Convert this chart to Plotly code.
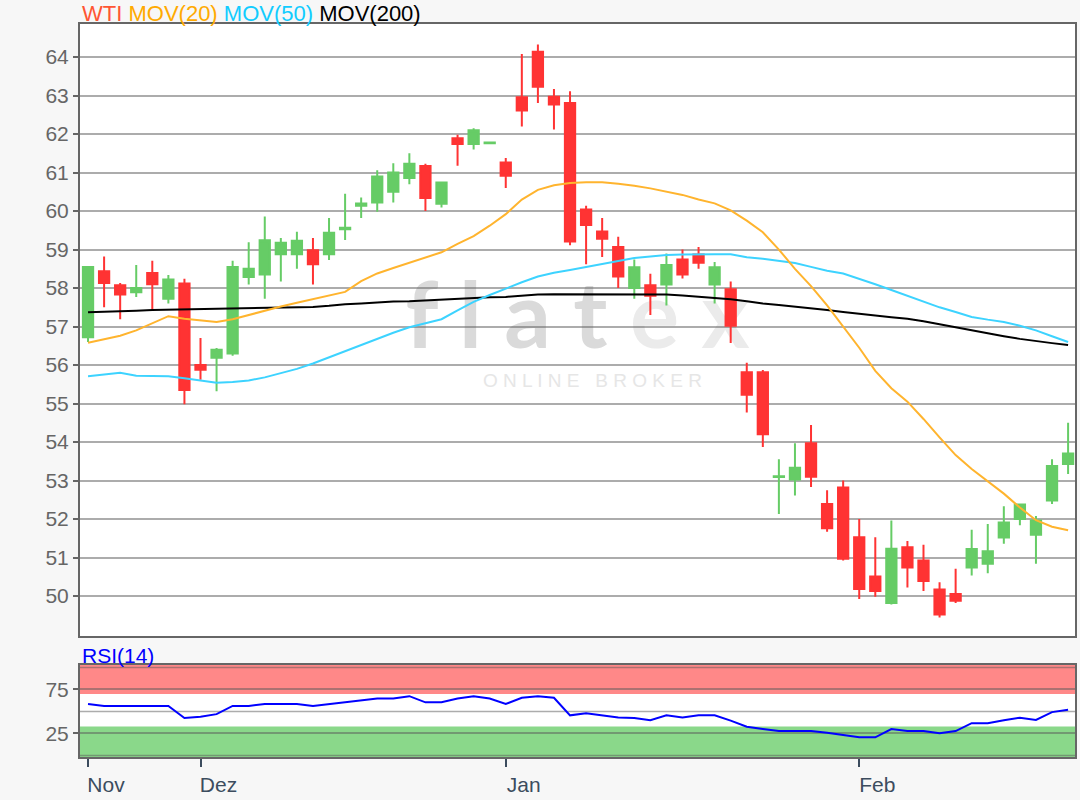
import plotly.graph_objects as go

# ---------------- data ----------------
dates = [
    "2019-11-21", "2019-11-22", "2019-11-25", "2019-11-26", "2019-11-27", "2019-11-28", "2019-11-29",
    "2019-12-02", "2019-12-03", "2019-12-04", "2019-12-05", "2019-12-06", "2019-12-09", "2019-12-10",
    "2019-12-11", "2019-12-12", "2019-12-13", "2019-12-16", "2019-12-17", "2019-12-18", "2019-12-19",
    "2019-12-20", "2019-12-23", "2019-12-27", "2019-12-30", "2019-12-31",
    "2020-01-02", "2020-01-03", "2020-01-06", "2020-01-07", "2020-01-08", "2020-01-09", "2020-01-10",
    "2020-01-13", "2020-01-14", "2020-01-15", "2020-01-16", "2020-01-17", "2020-01-20", "2020-01-21",
    "2020-01-22", "2020-01-23", "2020-01-24", "2020-01-27", "2020-01-28", "2020-01-29", "2020-01-30",
    "2020-01-31",
    "2020-02-03", "2020-02-04", "2020-02-05", "2020-02-06", "2020-02-07", "2020-02-10", "2020-02-11",
    "2020-02-12", "2020-02-13", "2020-02-14", "2020-02-17", "2020-02-18", "2020-02-19", "2020-02-20",
]

wti_open = [
    56.72, 58.44, 58.07, 57.89, 58.39, 57.72, 58.12,
    56.00, 56.19, 56.30, 58.29, 58.35, 58.88, 58.88, 58.98, 58.88, 59.53, 60.14, 60.22, 60.50,
    60.86, 61.17, 60.19, 61.89, 61.74, 61.76,
    61.26, 62.96, 64.14, 62.97, 62.81, 60.04, 59.47, 59.07, 58.00, 58.07, 58.09, 58.74, 58.87,
    58.09, 57.97, 55.81, 55.81, 53.09, 53.03, 53.97, 52.39, 52.82,
    51.53, 50.51, 49.82, 51.27, 50.92, 50.17, 50.05, 50.74, 50.84, 51.52, 52.00, 51.59, 52.48, 53.43,
]
wti_high = [
    58.57, 58.82, 58.13, 58.60, 58.71, 58.34, 58.24,
    56.70, 56.44, 58.71, 59.19, 59.86, 59.30, 59.46, 59.30, 59.82, 60.45, 60.35, 61.06, 61.24,
    61.50, 61.23, 60.75, 61.98, 62.15, 61.78,
    61.38, 64.08, 64.33, 63.17, 63.11, 60.14, 59.82, 59.33, 58.74, 58.37, 58.90, 59.00, 59.07,
    58.68, 58.17, 56.06, 55.87, 53.55, 53.97, 54.44, 52.75, 53.00,
    52.00, 51.53, 51.96, 51.43, 51.33, 50.36, 50.71, 51.72, 51.87, 52.33, 52.38, 52.08, 53.55, 54.50,
]
wti_low = [
    56.60, 57.50, 57.19, 57.77, 57.43, 57.60, 54.98,
    55.62, 55.32, 56.24, 58.09, 57.72, 58.17, 58.50, 58.09, 58.73, 59.25, 59.82, 59.98, 60.22,
    60.70, 60.00, 60.09, 61.18, 61.60, 61.76,
    60.60, 62.20, 62.81, 62.12, 59.11, 58.62, 58.81, 58.00, 57.72, 57.30, 57.55, 58.25, 58.50,
    57.60, 56.57, 54.77, 53.87, 52.13, 52.61, 52.83, 51.67, 50.92,
    49.92, 49.98, 49.78, 50.22, 50.13, 49.44, 49.82, 50.53, 50.59, 51.36, 51.84, 50.84, 52.39, 53.17,
]
wti_close = [
    58.55, 58.13, 57.83, 58.00, 58.10, 58.22, 55.35,
    55.88, 56.40, 58.55, 58.50, 59.24, 59.18, 59.23, 58.62, 59.44, 59.57, 60.20, 60.90, 61.00,
    61.23, 60.34, 60.74, 61.74, 62.10, 61.78,
    60.92, 62.61, 63.23, 62.77, 59.21, 59.64, 59.28, 58.30, 58.54, 57.80, 58.60, 58.35, 58.66,
    58.54, 57.02, 55.23, 54.20, 53.11, 53.33, 53.10, 51.76, 50.97,
    50.18, 50.13, 51.23, 50.74, 50.39, 49.52, 49.88, 51.22, 51.16, 51.91, 52.38, 51.96, 53.38, 53.70,
]

mov20 = [
    56.58, 56.68, 56.76, 56.90, 57.08, 57.27, 57.20,
    57.16, 57.12, 57.19, 57.30, 57.42, 57.52, 57.62, 57.71, 57.80, 57.90, 58.18, 58.38, 58.52,
    58.66, 58.80, 58.93, 59.15, 59.35, 59.62,
    59.92, 60.30, 60.55, 60.67, 60.73, 60.75, 60.75, 60.71, 60.66, 60.59, 60.50, 60.42, 60.30,
    60.20, 60.02, 59.75, 59.45, 59.00, 58.50, 58.05, 57.55, 57.00,
    56.45, 55.85, 55.40, 55.05, 54.60, 54.12, 53.66, 53.30, 52.98, 52.66, 52.30, 51.97, 51.80, 51.71,
]
mov50 = [
    55.71, 55.75, 55.80, 55.72, 55.71, 55.71, 55.66,
    55.60, 55.54, 55.56, 55.60, 55.68, 55.78, 55.90, 56.04, 56.20, 56.35, 56.52, 56.69, 56.84,
    56.98, 57.08, 57.19, 57.42, 57.64, 57.82,
    57.99, 58.15, 58.30, 58.40, 58.47, 58.55, 58.63, 58.70, 58.78, 58.82, 58.86, 58.87, 58.88,
    58.88, 58.88, 58.80, 58.76, 58.70, 58.65, 58.55, 58.45, 58.38,
    58.25, 58.10, 57.95, 57.80, 57.65, 57.50, 57.38, 57.25, 57.18, 57.12, 57.02, 56.90, 56.75, 56.60,
]
mov200 = [
    57.37, 57.38, 57.40, 57.41, 57.43, 57.44, 57.45,
    57.45, 57.46, 57.47, 57.47, 57.48, 57.49, 57.50, 57.51, 57.54, 57.58, 57.60, 57.63, 57.65,
    57.66, 57.68, 57.70, 57.73, 57.74, 57.76,
    57.77, 57.80, 57.83, 57.84, 57.84, 57.84, 57.84, 57.84, 57.84, 57.84, 57.83, 57.81, 57.78,
    57.75, 57.71, 57.66, 57.60, 57.56, 57.52, 57.48, 57.43, 57.38,
    57.33, 57.28, 57.24, 57.20, 57.14, 57.06, 56.98, 56.90, 56.82, 56.75, 56.68, 56.62, 56.57, 56.52,
]
rsi14 = [
    58.5, 56.3, 56.3, 56.3, 56.3, 56.3, 42.6,
    44.0, 47.0, 56.3, 56.3, 58.5, 58.5, 58.5, 56.3, 58.5, 60.5, 63.0, 64.8, 64.8,
    67.4, 60.4, 60.4, 64.8, 67.4, 64.8,
    58.5, 65.6, 67.4, 65.6, 45.6, 48.1, 45.5, 43.3, 42.6, 40.0, 45.6, 43.3, 45.6,
    45.6, 39.6, 32.6, 30.0, 27.8, 27.8, 27.8, 25.9, 23.0,
    20.7, 20.7, 30.0, 27.8, 27.8, 25.2, 27.8, 36.7, 36.7, 40.0, 43.0, 40.4, 49.3, 51.9,
]

month_names = {"11": "Nov", "12": "Dez", "01": "Jan", "02": "Feb"}
price_ticks = list(range(50, 65))
rsi_ticks = [25, 75]
rsi_upper, rsi_lower = 70, 33

# ---------------- month ticks (first trading day of each month) ----------------
tickvals, ticktext, seen = [], [], set()
for d in dates:
    if d[:7] not in seen:
        seen.add(d[:7])
        tickvals.append(d)
        ticktext.append(month_names[d[5:7]])

FONT = "Arial, 'Liberation Sans', sans-serif"
FS = 21
GREEN = "#66cc66"
RED = "#ff3333"
GRID = "rgba(90,90,90,0.5)"
FRAME = "#666666"

fig = go.Figure()

fig.add_trace(go.Candlestick(
    x=dates, open=wti_open, high=wti_high, low=wti_low, close=wti_close,
    increasing=dict(line=dict(color=GREEN, width=2), fillcolor=GREEN),
    decreasing=dict(line=dict(color=RED, width=2), fillcolor=RED),
    whiskerwidth=0, xaxis="x", yaxis="y", name="WTI",
))
for vals, color, name in [(mov200, "#000000", "MOV(200)"),
                          (mov50, "#3dd3ff", "MOV(50)"),
                          (mov20, "#ffb42e", "MOV(20)")]:
    fig.add_trace(go.Scatter(x=dates, y=vals, mode="lines", name=name,
                             line=dict(color=color, width=2), xaxis="x", yaxis="y"))

fig.add_trace(go.Scatter(x=dates, y=rsi14, mode="lines", name="RSI(14)",
                         line=dict(color="#0000ff", width=2), xaxis="x2", yaxis="y2"))

# RSI bands and extra guide lines
fig.add_shape(type="rect", xref="x2 domain", yref="y2", x0=0, x1=1, y0=rsi_upper, y1=110,
              fillcolor="#ff8888", line_width=0, layer="below")
fig.add_shape(type="rect", xref="x2 domain", yref="y2", x0=0, x1=1, y0=-10, y1=rsi_lower,
              fillcolor="#8ad88a", line_width=0, layer="below")
for lv in [0, 50, 100]:
    fig.add_shape(type="line", xref="x2 domain", yref="y2", x0=0, x1=1, y0=lv, y1=lv,
                  line=dict(color=GRID, width=1.5), layer="below")

# watermark
fig.add_shape(type="rect", xref="x domain", yref="y domain", x0=0.40, x1=0.60, y0=0.47, y1=0.59,
              line_width=0, fillcolor="rgba(0,0,0,0)", layer="below",
              label=dict(text='f l a t <span style="color:#ebebeb">e x</span>',
                         textposition="middle center",
                         font=dict(family="Lato, 'Open Sans', sans-serif", size=92,
                                   color="#dadada", weight="bold")))
fig.add_shape(type="rect", xref="x domain", yref="y domain", x0=0.40, x1=0.63, y0=0.40, y1=0.44,
              line_width=0, fillcolor="rgba(0,0,0,0)", layer="below",
              label=dict(text="O N L I N E   B R O K E R", textposition="middle center",
                         font=dict(family=FONT, size=19, color="#e6e6e6")))

legend_html = (
    '<span style="color:#ff5533">WTI</span> '
    '<span style="color:#ffaa00">MOV(20)</span> '
    '<span style="color:#11ccff">MOV(50)</span> '
    '<span style="color:#000000">MOV(200)</span>'
)
fig.add_annotation(text=legend_html, xref="paper", yref="paper", x=0.0, y=1.015,
                   xanchor="left", yanchor="middle", showarrow=False,
                   font=dict(family=FONT, size=FS + 1))
fig.add_annotation(text="RSI(14)", xref="paper", yref="paper", x=0.0, y=0.139,
                   xanchor="left", yanchor="middle", showarrow=False,
                   font=dict(family=FONT, size=FS, color="#0000ff"))

fig.update_layout(
    width=1080, height=800,
    paper_bgcolor="#f7f7f7", plot_bgcolor="#ffffff",
    margin=dict(l=80, r=3, t=24, b=43),
    showlegend=False,
    boxgap=0.36, boxgroupgap=0,
    font=dict(family=FONT, size=FS, color="#666666"),
    hovermode=False,
    xaxis=dict(type="category", domain=[0, 1], anchor="y", range=[-0.5, 61.43],
               showticklabels=False, ticks="", showgrid=False,
               rangeslider=dict(visible=False),
               showline=True, mirror=True, linecolor=FRAME, linewidth=2),
    yaxis=dict(domain=[0.165, 1], anchor="x", range=[48.96, 64.86], tickvals=price_ticks,
               ticks="outside", ticklen=5, tickwidth=2, tickcolor=FRAME,
               gridcolor=GRID, gridwidth=1.5, zeroline=False,
               showline=True, mirror=True, linecolor=FRAME, linewidth=2,
               tickfont=dict(size=FS, color="#666666")),
    xaxis2=dict(type="category", matches="x", anchor="y2", domain=[0, 1],
                tickvals=tickvals, ticktext=ticktext,
                ticks="outside", ticklen=8, tickwidth=2, tickcolor="#3c4c5e",
                ticklabelshift=18, showgrid=False,
                showline=True, mirror=True, linecolor=FRAME, linewidth=2,
                tickfont=dict(size=FS, color="#3c4c5e")),
    yaxis2=dict(domain=[0, 0.1255], anchor="x2", range=[-1.7, 102.8], tickvals=rsi_ticks,
                ticks="outside", ticklen=5, tickwidth=2, tickcolor=FRAME,
                gridcolor=GRID, gridwidth=1.5, zeroline=False,
                showline=True, mirror=True, linecolor=FRAME, linewidth=2,
                tickfont=dict(size=FS, color="#666666")),
)

fig.write_html(
    "out.html",
    config={"displayModeBar": False},
    post_script="document.body.style.margin='0';document.body.style.overflow='hidden';",
)
